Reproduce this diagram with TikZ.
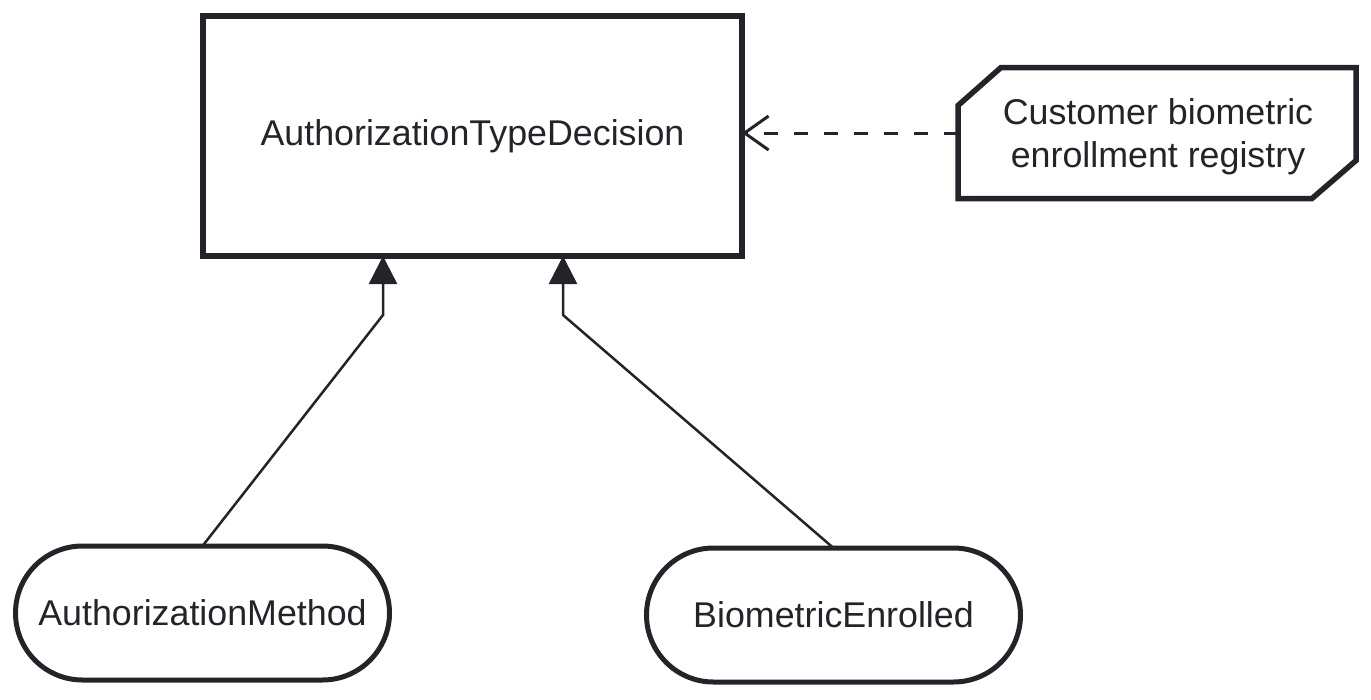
\documentclass[tikz,border=0pt]{standalone}
\usepackage{fontspec}
\setmainfont{Liberation Sans}
\usetikzlibrary{arrows.meta}
\definecolor{ink}{RGB}{34,36,41}
\begin{document}
\begin{tikzpicture}[x=1pt,y=-1pt,
  every node/.style={outer sep=0pt, text=ink, font=\fontsize{35.8}{43}\selectfont, align=center},
  decisionbox/.style={draw=ink, line width=6pt, rectangle, minimum width=539pt, minimum height=240pt},
  inputbox/.style={draw=ink, line width=5pt, rectangle, rounded corners=67pt, minimum width=374pt, minimum height=134pt},
  ksbox/.style={rectangle, minimum width=398pt, minimum height=131pt},
  infreq/.style={draw=ink, line width=2.5pt, -{Triangle[length=28pt, width=28pt]}},
  knowreq/.style={draw=ink, line width=3pt, dash pattern=on 14pt off 16pt, -{Straight Barb[length=24pt, width=34pt, line width=3pt]}}
]
\useasboundingbox (0,0) rectangle (1371,699);
\node[decisionbox] (dec) at (472.5,136) {AuthorizationTypeDecision};
\node[inputbox] (im) at (202.5,613) {AuthorizationMethod};
\node[inputbox] (be) at (833.5,615) {BiometricEnrolled};
\node[ksbox] (ks) at (1157,133) {};
\node (kst) at (1158,137) {Customer biometric\\enrollment registry};
\draw[ink, line width=5.5pt, line join=miter]
  ([xshift=43pt]ks.north west) -- (ks.north east) -- ([yshift=38pt]ks.south east)
  -- ([xshift=-44pt]ks.south east) -- (ks.south west) -- ([yshift=-38pt]ks.north west) -- cycle;
\coordinate (b1) at (383,315);
\coordinate (b2) at (563,315);
\draw[infreq] (im.north) -- (b1) -- (dec.south -| b1);
\draw[infreq] (be.north) -- (b2) -- (dec.south -| b2);
\draw[knowreq] (ks.west) -- (dec.east |- ks.west);
\end{tikzpicture}
\end{document}
